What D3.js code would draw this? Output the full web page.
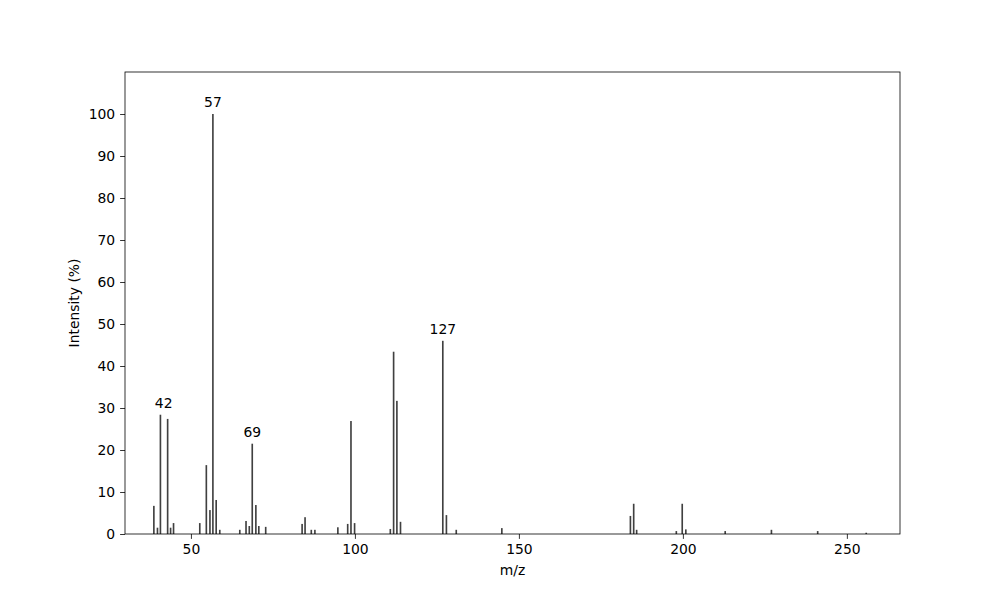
<!DOCTYPE html>
<html>
<head>
<meta charset="utf-8">
<script src="https://cdn.jsdelivr.net/npm/d3@7"></script>
<style>
  body { margin: 0; background: #fff; }
  text { font-family: "DejaVu Sans", sans-serif; }
</style>
</head>
<body>
<div id="chart"></div>
<script>
// peaks
var mz = [38.7, 39.8, 40.7, 42.9, 43.8, 44.7, 52.7, 54.7, 55.8, 56.7, 57.7, 58.8,
          64.9, 66.8, 67.8, 68.7, 69.8, 70.7, 72.8, 83.9, 84.8, 86.7, 87.8, 94.8,
          97.8, 98.8, 99.9, 110.8, 111.8, 112.8, 113.9, 126.8, 127.9, 130.9, 144.8,
          184.0, 185.0, 185.9, 198.0, 199.8, 200.9, 212.9, 227.0, 241.1, 255.9];
var intensity = [6.7, 1.5, 28.4, 27.4, 1.5, 2.6, 2.6, 16.4, 5.7, 100, 8.1, 1.0,
                 1.0, 3.1, 1.9, 21.5, 6.9, 1.9, 1.7, 2.4, 4.0, 1.0, 1.0, 1.6,
                 2.4, 26.9, 2.6, 1.2, 43.4, 31.7, 2.9, 46.0, 4.5, 1.0, 1.4,
                 4.3, 7.2, 1.0, 0.7, 7.2, 1.1, 0.7, 1.0, 0.7, 0.3];

// annotated peaks
var labelText = ["42", "57", "69", "127"];
var labelMz = [41.7, 56.7, 68.7, 126.8];
var labelIntensity = [28.4, 100, 21.5, 46.0];

var xTicks = [50, 100, 150, 200, 250];
var yTicks = [0, 10, 20, 30, 40, 50, 60, 70, 80, 90, 100];

var margin = {top: 72, right: 100, bottom: 66, left: 125},
    width = 1000 - margin.left - margin.right,
    height = 600 - margin.top - margin.bottom;

var peaks = mz.map(function(m, i) { return {mz: m, value: intensity[i]}; });
var labels = labelText.map(function(t, i) { return {text: t, mz: labelMz[i], value: labelIntensity[i]}; });

var svg = d3.select("#chart")
    .append("svg")
    .attr("width", 1000)
    .attr("height", 600)
    .append("g")
    .attr("transform", "translate(" + margin.left + "," + margin.top + ")");

var x = d3.scaleLinear().domain([29.9, 266.2]).range([0, width]);
var y = d3.scaleLinear().domain([0, 110]).range([height, 0]);

// bars
var barW = x(0.5) - x(0);
svg.selectAll(".peak")
    .data(peaks)
    .enter()
    .append("rect")
    .attr("class", "peak")
    .attr("x", function(d) { return x(d.mz) - barW / 2; })
    .attr("y", function(d) { return y(d.value); })
    .attr("width", barW)
    .attr("height", function(d) { return height - y(d.value); })
    .attr("fill", "#404040");

// peak labels
svg.selectAll(".lbl")
    .data(labels)
    .enter()
    .append("text")
    .attr("class", "lbl")
    .attr("x", function(d) { return x(d.mz); })
    .attr("y", function(d) { return y(d.value + 1.6); })
    .attr("text-anchor", "middle")
    .style("font-size", "13.9px")
    .text(function(d) { return d.text; });

// axes
var xAxis = svg.append("g")
    .attr("transform", "translate(0," + height + ")")
    .call(d3.axisBottom(x).tickValues(xTicks).tickSize(4.9).tickPadding(4.9).tickSizeOuter(0));
var yAxis = svg.append("g")
    .call(d3.axisLeft(y).tickValues(yTicks).tickSize(4.9).tickPadding(4.9).tickSizeOuter(0));
[xAxis, yAxis].forEach(function(a) {
    a.select(".domain").remove();
    a.selectAll("line").attr("stroke", "#000").attr("stroke-width", 0.8);
    a.selectAll("text").attr("fill", "#000").style("font-size", "13.9px")
        .style("font-family", "'DejaVu Sans', sans-serif");
});

// frame
svg.append("rect")
    .attr("width", width)
    .attr("height", height)
    .attr("fill", "none")
    .attr("stroke", "#000")
    .attr("stroke-width", 0.8);

// X axis label
svg.append("text")
    .attr("x", width / 2)
    .attr("y", height + 41)
    .attr("text-anchor", "middle")
    .style("font-size", "13.9px")
    .text("m/z");

// Y axis label
svg.append("text")
    .attr("transform", "rotate(-90)")
    .attr("x", -height / 2)
    .attr("y", -46)
    .attr("text-anchor", "middle")
    .style("font-size", "13.9px")
    .text("Intensity (%)");
</script>
</body>
</html>
